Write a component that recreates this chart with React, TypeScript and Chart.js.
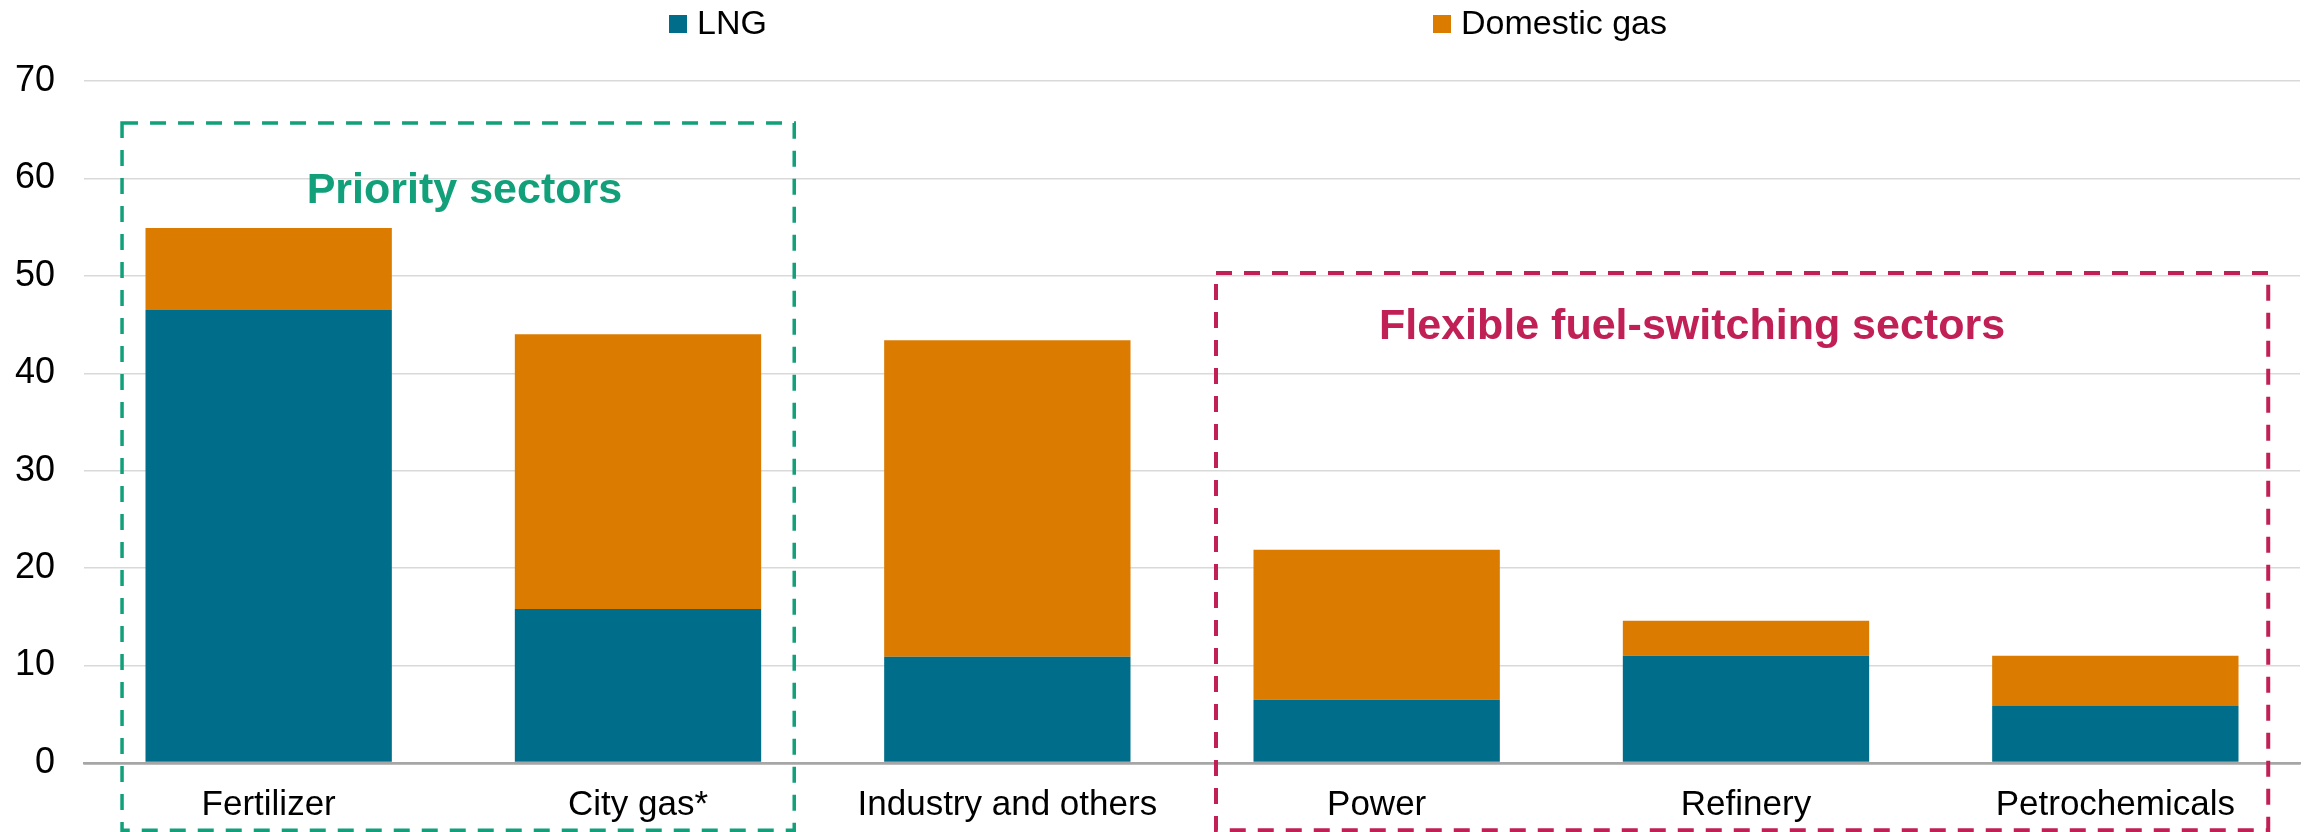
import React, { useEffect, useRef } from "react";
import { Chart, registerables } from "chart.js";

Chart.register(...registerables);

// ---------- data ----------
const categories = [
  "Fertilizer",
  "City gas*",
  "Industry and others",
  "Power",
  "Refinery",
  "Petrochemicals",
];
const seriesLabels = ["LNG", "Domestic gas"];
const lngValues = [46.5, 15.8, 10.9, 6.5, 11.0, 5.9];
const domesticValues = [8.4, 28.2, 32.5, 15.4, 3.6, 5.1];
const yTickMin = 0;
const yTickMax = 70;
const yTickStep = 10;
const groupTitles = ["Priority sectors", "Flexible fuel-switching sectors"];

// ---------- styles / layout ----------
const W = 2305;
const H = 832;
const FONT = "'Liberation Sans', Arial, Helvetica, sans-serif";
const seriesColors = ["#006E8A", "#DB7B00"];
const groupColors = ["#11A07A", "#C02056"];
const PAD = { top: 81, left: 15, right: 5, bottom: 6 };
const Y_AXIS_W = 69;
const X_AXIS_H = 63;
// boxes in (category-index, value) units: [left, right, top, bottom]
const groupBoxes = [
  [-0.397, 1.423, 65.7, -6.9],
  [2.565, 5.414, 50.3, -6.9],
];
// title anchors in (category-index, value) units
const groupTitleAnchors = [
  [0.53, 58.7],
  [3.854, 44.7],
];
const legendItemX = [669, 1433];

const annotationPlugin = {
  id: "groupBoxes",
  afterDatasetsDraw(chart: any) {
    const ctx = chart.ctx;
    const xs = chart.scales.x;
    const ys = chart.scales.y;
    const catW = xs.getPixelForValue(1) - xs.getPixelForValue(0);
    const px = (v: number) => xs.getPixelForValue(0) + v * catW;
    ctx.save();
    groupBoxes.forEach((b, i) => {
      const l = px(b[0]);
      const r = px(b[1]);
      const t = ys.getPixelForValue(b[2]);
      const bt = ys.getPixelForValue(b[3]);
      ctx.strokeStyle = groupColors[i];
      ctx.lineWidth = i === 0 ? 3.5 : 4;
      ctx.setLineDash([16, 12]);
      ctx.strokeRect(l, t, r - l, bt - t);
    });
    ctx.setLineDash([]);
    groupTitles.forEach((txt, i) => {
      const a = groupTitleAnchors[i];
      ctx.fillStyle = groupColors[i];
      ctx.font = `bold 43px ${FONT}`;
      ctx.textAlign = "center";
      ctx.textBaseline = "middle";
      ctx.fillText(txt, px(a[0]), ys.getPixelForValue(a[1]));
    });
    ctx.restore();
  },
};

const legendPlugin = {
  id: "customLegend",
  afterDraw(chart: any) {
    const ctx = chart.ctx;
    ctx.save();
    chart.data.datasets.forEach((ds: any, i: number) => {
      const x = legendItemX[i];
      ctx.fillStyle = ds.backgroundColor;
      ctx.fillRect(x, 15, 18, 18);
      ctx.fillStyle = "#000";
      ctx.font = `34px ${FONT}`;
      ctx.textAlign = "left";
      ctx.textBaseline = "middle";
      ctx.fillText(ds.label, x + 28, 25);
    });
    ctx.restore();
  },
};

export default function App() {
  const ref = useRef<HTMLCanvasElement | null>(null);

  useEffect(() => {
    document.body.style.margin = "0";
    const canvas = ref.current;
    if (!canvas) return;
    const chart = new Chart(canvas, {
      type: "bar",
      data: {
        labels: categories,
        datasets: [
          {
            label: seriesLabels[0],
            data: lngValues,
            backgroundColor: seriesColors[0],
            borderWidth: 0,
            categoryPercentage: 1,
            barPercentage: 0.667,
          },
          {
            label: seriesLabels[1],
            data: domesticValues,
            backgroundColor: seriesColors[1],
            borderWidth: 0,
            categoryPercentage: 1,
            barPercentage: 0.667,
          },
        ],
      },
      options: {
        animation: false,
        responsive: false,
        devicePixelRatio: 1,
        layout: { padding: PAD },
        plugins: {
          legend: { display: false },
          tooltip: { enabled: false },
        },
        scales: {
          x: {
            stacked: true,
            grid: { display: false, drawTicks: false },
            border: { display: true, color: "#A6A6A6", width: 2.5 },
            ticks: {
              color: "#000",
              font: { family: FONT, size: 35 },
              padding: 21,
              maxRotation: 0,
              autoSkip: false,
            },
            afterFit: (s: any) => {
              s.height = X_AXIS_H;
              s.paddingLeft = 0;
              s.paddingRight = 0;
            },
          },
          y: {
            stacked: true,
            min: yTickMin,
            max: yTickMax,
            grid: {
              color: (c: any) => (c.tick && c.tick.value === 0 ? "#A6A6A6" : "#D9D9D9"),
              lineWidth: (c: any) => (c.tick && c.tick.value === 0 ? 2.5 : 1.5),
              drawTicks: false,
            },
            border: { display: false },
            ticks: {
              stepSize: yTickStep,
              color: "#000",
              font: { family: FONT, size: 36 },
              padding: 29,
            },
            afterFit: (s: any) => {
              s.width = Y_AXIS_W;
            },
          },
        },
      },
      plugins: [annotationPlugin, legendPlugin],
    });
    return () => chart.destroy();
  }, []);

  return (
    <div style={{ position: "fixed", left: 0, top: 0, width: W, height: H, background: "#fff" }}>
      <canvas ref={ref} width={W} height={H} style={{ display: "block", width: W, height: H }} />
    </div>
  );
}
